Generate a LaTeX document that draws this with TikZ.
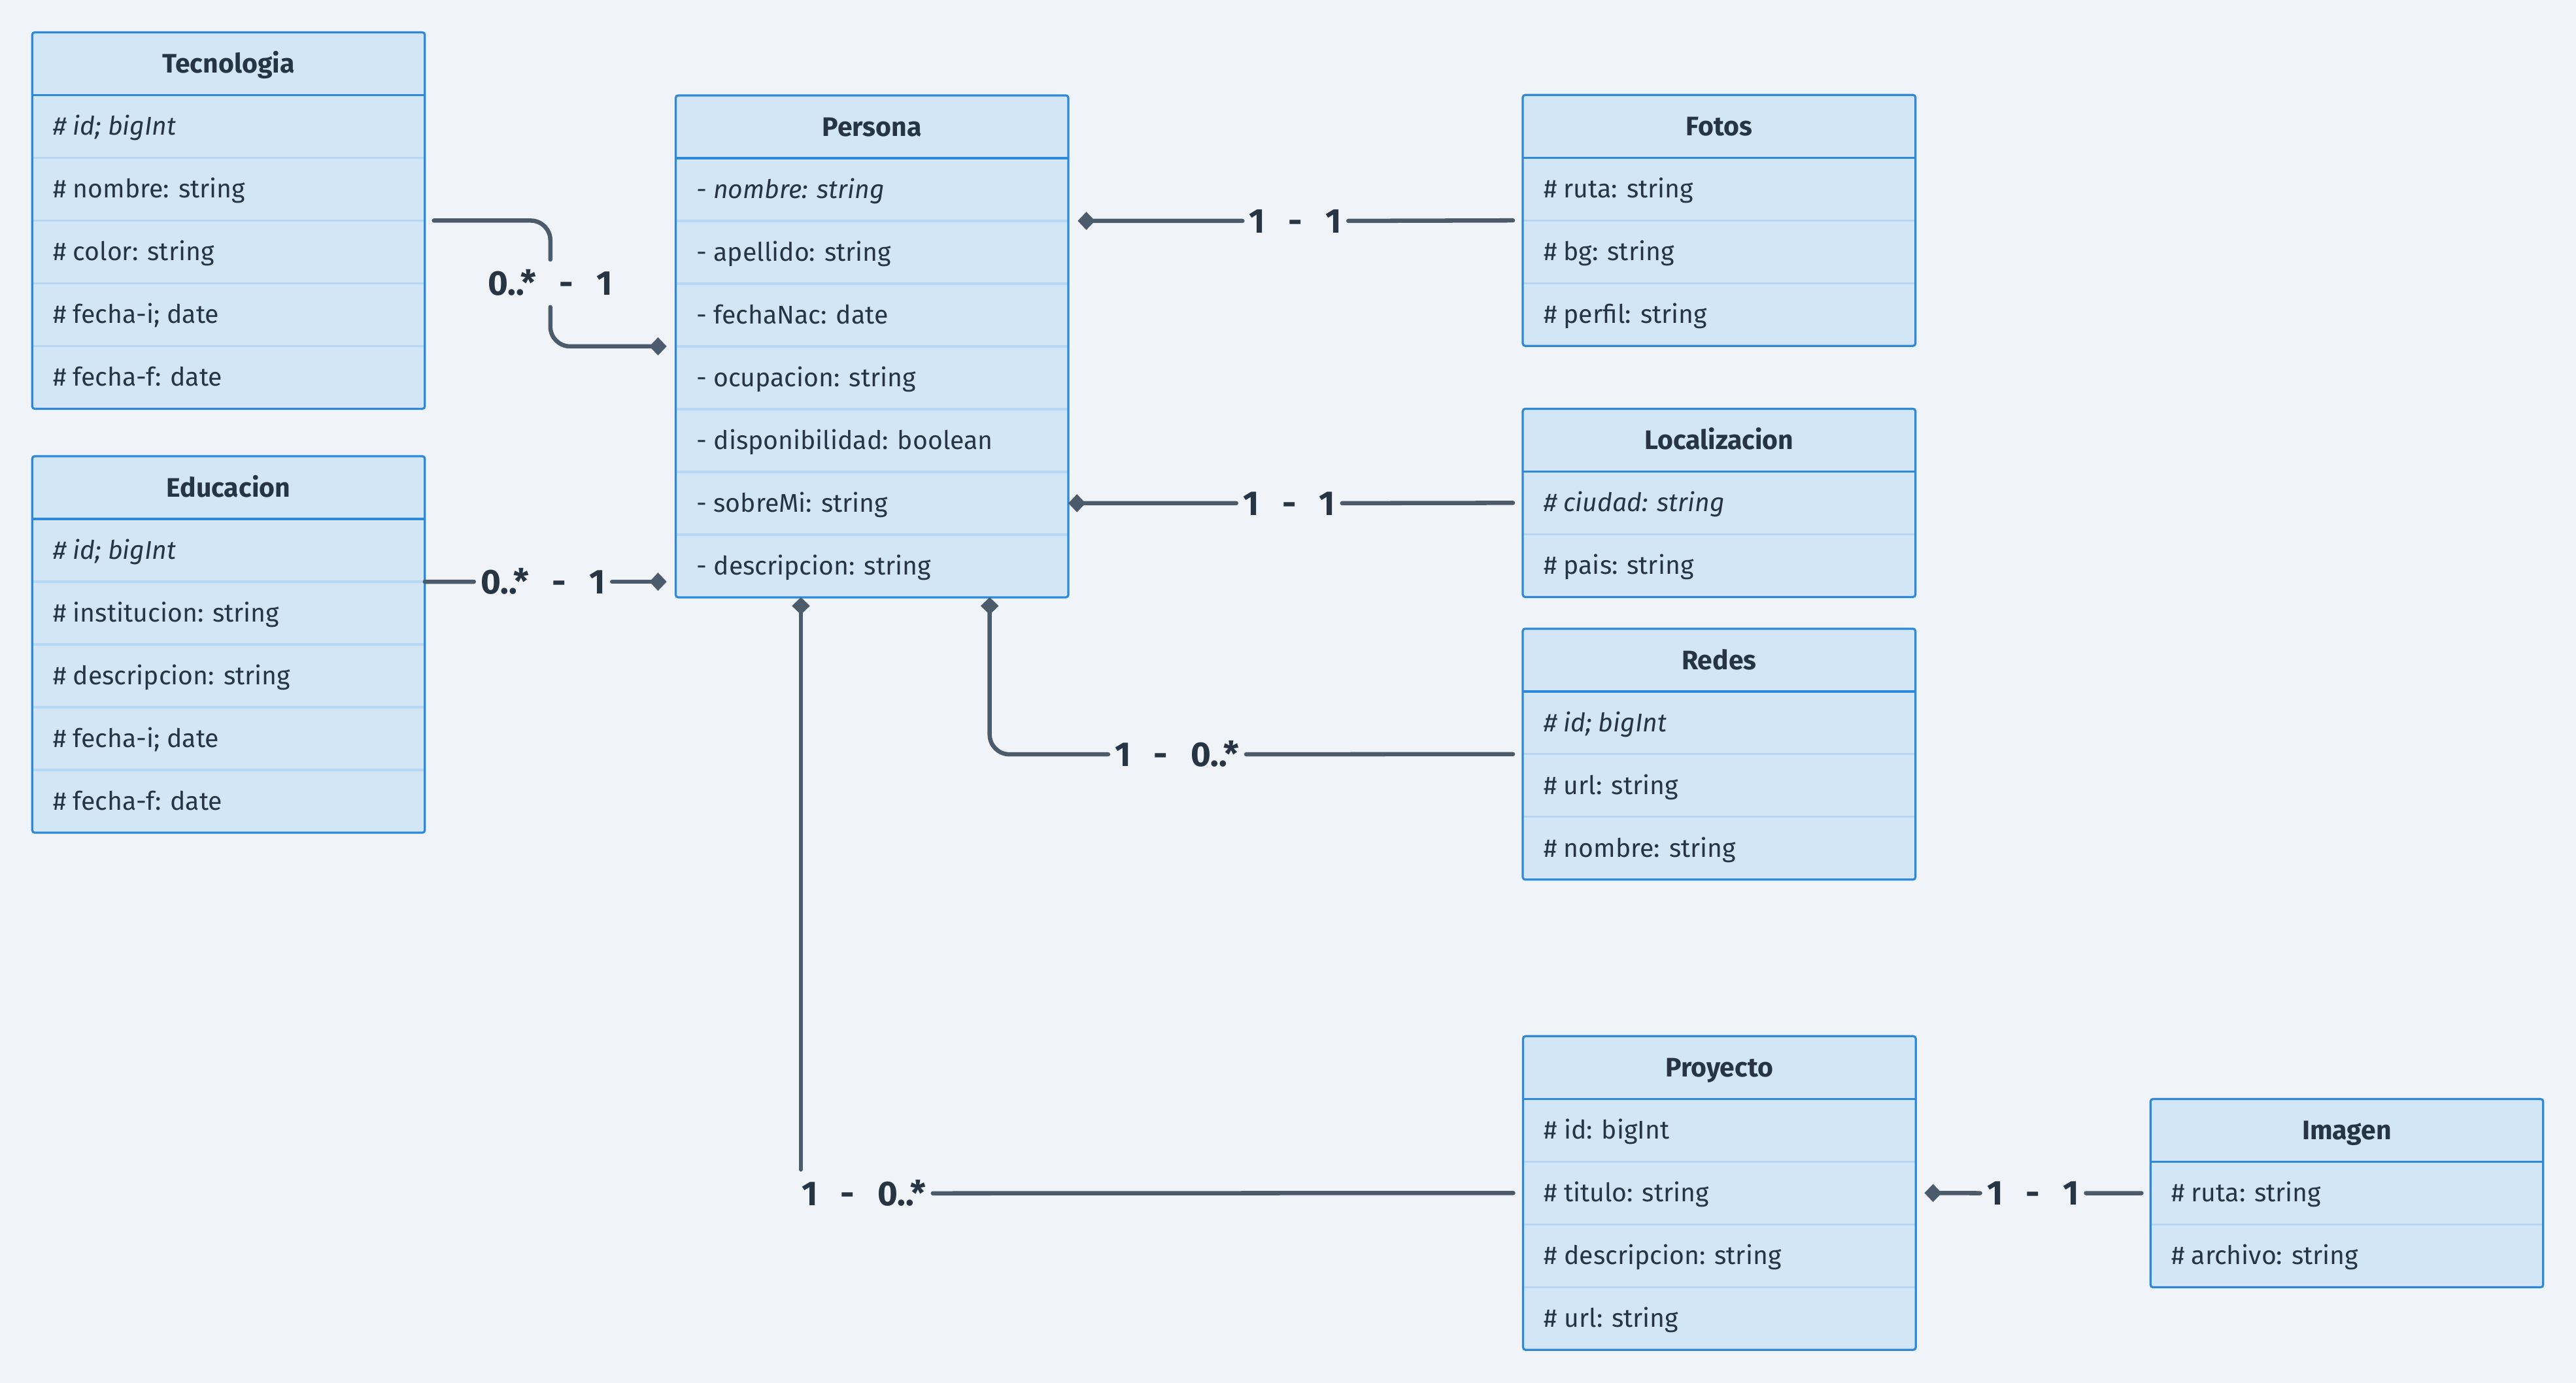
\documentclass[tikz,border=0pt]{standalone}
\usepackage{fontspec}
\setmainfont{Fira Sans}
\usetikzlibrary{arrows.meta,calc}

\definecolor{bg}{HTML}{F0F4F8}
\definecolor{boxfill}{HTML}{D3E6F5}
\definecolor{boxedge}{HTML}{2E8AD8}
\definecolor{rowsep}{HTML}{B6D6F1}
\definecolor{textc}{HTML}{263444}
\definecolor{linec}{HTML}{4B5B6B}

\newlength\mgap
\setlength\mgap{14pt}
% multiplicity text: left end, dash, right end
\newcommand\mult[2]{#1\hspace{\mgap}-\hspace{\mgap}#2}

% class box: id, left x, top y, title, number of rows, rows
\newcommand\umlclass[6]{%
  \fill[boxfill, rounded corners=1.5pt] (#2,#3) rectangle ++(239,{38.2*(#5+1)});
  \node[cell, anchor=north west] (#1) at (#2,#3) {};
  \node[titletext] (#1-t) at (#1.center) {#4};
  \foreach [count=\k] \r in {#6} {
    \node[cell, anchor=north west] (#1-\k) at (#2,{#3+38.2*\k}) {};
    \node[attrtext] (#1-\k-t) at (#1-\k.west) {\r};
    \ifnum\k<#5 \draw[rowline] (#1-\k.south west) -- (#1-\k.south east); \fi
  }
  \draw[edgeline] (#1.south west) -- (#1.south east);
  \draw[edgeline, rounded corners=1.5pt] (#1.north west) rectangle (#1-#5.south east);
}

\begin{document}
\begin{tikzpicture}[x=1pt, y=-1pt,
  cell/.style={minimum width=239pt, minimum height=38.2pt, inner sep=0pt, outer sep=0pt},
  titletext/.style={anchor=base, yshift=-5.7pt, inner sep=0pt, text=textc,
    font=\fontsize{16.3}{16}\selectfont\bfseries},
  attrtext/.style={anchor=base west, xshift=12.5pt, yshift=-5.3pt, inner sep=0pt, text=textc,
    font=\fontsize{15.6}{15.6}\selectfont},
  rowline/.style={draw=rowsep, line width=1.3pt},
  edgeline/.style={draw=boxedge, line width=1.3pt},
  conn/.style={draw=linec, line width=2.6pt, line cap=round},
  comp/.style={{Diamond[length=10.5pt,width=11pt]}-},
  comptail/.style={-{Diamond[length=10.5pt,width=11pt]}},
  multlabel/.style={text=textc, font=\fontsize{21}{21}\selectfont\bfseries,
    inner xsep=4pt, inner ysep=7pt, text height=14.6pt, text depth=0pt}
]
\fill[bg] (0,0) rectangle (1568,842);
\useasboundingbox (0,0) rectangle (1568,842);

% classes
\umlclass{tec}{19.6}{19.7}{Tecnologia}{5}{%
  {\itshape\# id; bigInt},\# nombre: string,\# color: string,\# fecha-i; date,\# fecha-f: date}
\umlclass{edu}{19.6}{277.8}{Educacion}{5}{%
  {\itshape\# id; bigInt},\# institucion: string,\# descripcion: string,\# fecha-i; date,\# fecha-f: date}
\umlclass{per}{411.3}{58.1}{Persona}{7}{%
  {\itshape - nombre: string},- apellido: string,- fechaNac: date,- ocupacion: string,%
  - disponibilidad: boolean,- sobreMi: string,- descripcion: string}
\umlclass{fot}{926.9}{57.8}{Fotos}{3}{%
  \# ruta: string,\# bg: string,\# perfil: string}
\umlclass{loc}{926.9}{248.9}{Localizacion}{2}{%
  {\itshape\# ciudad: string},\# pais: string}
\umlclass{red}{926.9}{382.8}{Redes}{3}{%
  {\itshape\# id; bigInt},\# url: string,\# nombre: string}
\umlclass{pro}{927.1}{630.9}{Proyecto}{4}{%
  \# id: bigInt,\# titulo: string,\# descripcion: string,\# url: string}
\umlclass{img}{1309.0}{669.2}{Imagen}{2}{%
  \# ruta: string,\# archivo: string}

% multiplicity labels
\node[multlabel] (m-tec) at (335,172.5) {\mult{0..*}{1}};
\node[multlabel] (m-edu) at (330.5,354.2) {\mult{0..*}{1}};
\node[multlabel] (m-fot) at (788.5,134.5) {\mult{1}{1}};
\node[multlabel] (m-loc) at (784.7,306.4) {\mult{1}{1}};
\node[multlabel] (m-red) at (716.5,459.3) {\mult{1}{0..*}};
\node[multlabel] (m-pro) at (525.8,726.6) {\mult{1}{0..*}};
\node[multlabel] (m-img) at (1237.5,726.5) {\mult{1}{1}};

% Tecnologia - Persona
\draw[conn, rounded corners=12pt] ($(tec-2.south east)+(5.5,0)$) -| (m-tec.north);
\draw[conn, rounded corners=12pt, comptail] (m-tec.south) |- ($(per-3.south west)+(-5.5,0)$);
% Educacion - Persona
\draw[conn] (edu-1.south east) -- (m-edu.west);
\draw[conn, comptail] (m-edu.east) -- ($(per-7.west |- m-edu.east)+(-5.5,0)$);
% Persona - Fotos
\draw[conn, comp] ($(per-1.south east)+(5.7,0)$) -- (m-fot.west);
\draw[conn] (m-fot.east) -- ($(fot-1.south west)+(-6,0)$);
% Persona - Localizacion
\draw[conn, comp] (per-6.east) -- (m-loc.west);
\draw[conn] (m-loc.east) -- ($(loc-1.west)+(-6,0)$);
% Persona - Redes
\draw[conn, comp, rounded corners=12pt] ([xshift=191.1pt]per-7.south west) |- (m-red.west);
\draw[conn] (m-red.east) -- ($(red-1.south west)+(-6,0)$);
% Persona - Proyecto
\coordinate (per-p) at ([xshift=76.2pt]per-7.south west);
\draw[conn, comp] (per-p) -- (per-p |- m-pro.north);
\draw[conn] (m-pro.east) -- ($(pro-2.west)+(-6,0)$);
% Proyecto - Imagen
\draw[conn, comp] ($(pro-2.east)+(5.3,0)$) -- (m-img.west);
\draw[conn] (m-img.east) -- ($(img-1.west)+(-5.5,0)$);
\end{tikzpicture}
\end{document}
